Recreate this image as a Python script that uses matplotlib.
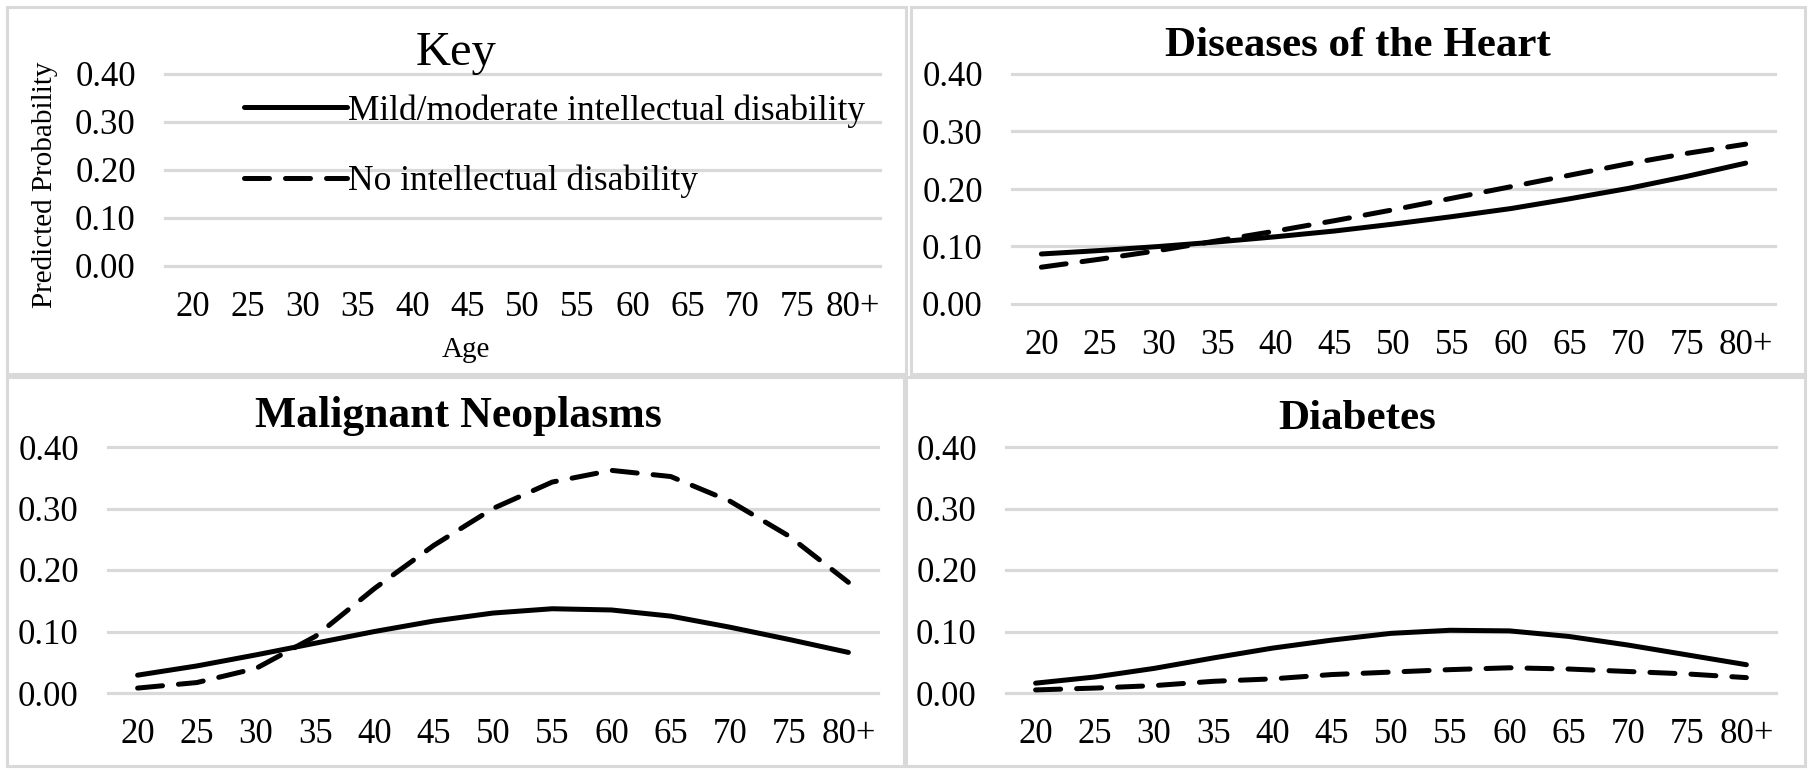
import matplotlib
matplotlib.use('Agg')
import matplotlib.pyplot as plt
from matplotlib.patches import Rectangle
from matplotlib.lines import Line2D
from matplotlib.ticker import FormatStrFormatter

plt.rcParams['font.family'] = ['Liberation Serif', 'DejaVu Serif']

# data
ages = ['20', '25', '30', '35', '40', '45', '50', '55', '60', '65', '70', '75', '80+']
series_names = ['Mild/moderate intellectual disability', 'No intellectual disability']

heart_id = [0.087, 0.093, 0.100, 0.108, 0.117, 0.127, 0.139, 0.152, 0.166, 0.183, 0.201, 0.222, 0.245]
heart_no = [0.064, 0.078, 0.093, 0.110, 0.127, 0.145, 0.164, 0.184, 0.204, 0.224, 0.244, 0.262, 0.278]
cancer_id = [0.029, 0.044, 0.062, 0.081, 0.100, 0.117, 0.130, 0.137, 0.135, 0.125, 0.107, 0.087, 0.066]
cancer_no = [0.008, 0.017, 0.040, 0.092, 0.170, 0.240, 0.300, 0.343, 0.362, 0.352, 0.312, 0.255, 0.180]
diab_id = [0.016, 0.026, 0.040, 0.057, 0.073, 0.086, 0.097, 0.102, 0.101, 0.092, 0.078, 0.062, 0.046]
diab_no = [0.005, 0.008, 0.012, 0.019, 0.023, 0.030, 0.034, 0.038, 0.041, 0.039, 0.035, 0.031, 0.025]

yticks = [0.0, 0.1, 0.2, 0.3, 0.4]

W, H = 1810, 774
fig = plt.figure(figsize=(18.1, 7.74), dpi=100)
grey = '#d9d9d9'


def rect(l, t, r, b):
    # pixel box (from top-left) -> figure fraction
    return [l / W, 1 - b / H, (r - l) / W, (b - t) / H]


def fx(px):
    return px / W


def fy(py):
    return 1 - py / H


# panel frames
for l, t, r, b in [(7, 7, 906, 374), (911, 7, 1805, 374), (7, 377, 904, 766), (906, 377, 1805, 766)]:
    fig.add_artist(Rectangle((fx(l), fy(b)), (r - l) / W, (b - t) / H,
                             transform=fig.transFigure, fill=False,
                             edgecolor=grey, lw=2.2))


def setup(ax):
    ax.set_xlim(-0.5, len(ages) - 0.5)
    ax.set_ylim(0, 0.4)
    ax.set_xticks(range(len(ages)))
    ax.set_xticklabels(ages)
    ax.set_yticks(yticks)
    ax.yaxis.set_major_formatter(FormatStrFormatter('%.2f'))
    ax.grid(axis='y', color=grey, lw=2.3)
    for gl in ax.get_ygridlines():
        gl.set_clip_on(False)
    ax.set_axisbelow(True)
    for s in ax.spines.values():
        s.set_visible(False)
    ax.tick_params(axis='both', length=0, labelsize=25)
    ax.tick_params(axis='y', pad=21)
    ax.tick_params(axis='x', pad=18)


def draw(ax, y_id, y_no):
    ax.plot(range(len(ages)), y_id, color='black', lw=3.6,
            solid_capstyle='round', clip_on=False)
    ax.plot(range(len(ages)), y_no, color='black', lw=3.6,
            dashes=(5, 3.2), dash_capstyle='round', clip_on=False)


# Key panel
ax_key = fig.add_axes(rect(165, 74, 880, 266))
setup(ax_key)
fig.text(fx(456), fy(65), 'Key', fontsize=35, ha='center', va='baseline')
fig.text(fx(45), fy(185), 'Predicted Probability', fontsize=21, rotation=90,
         ha='center', va='center')
fig.text(fx(466), fy(350), 'Age', fontsize=21, ha='center', va='center')
h1 = Line2D([], [], color='black', lw=3.6, solid_capstyle='round')
h2 = Line2D([], [], color='black', lw=3.6, dashes=(5, 3.2), dash_capstyle='round')
ax_key.legend([h1, h2], series_names, loc='upper left',
              bbox_to_anchor=(fx(244), fy(94)), bbox_transform=fig.transFigure,
              frameon=False, fontsize=25.5, handlelength=2.9, handletextpad=0.05,
              labelspacing=1.05, borderpad=0, borderaxespad=0)

# Diseases of the Heart
ax_h = fig.add_axes(rect(1012, 74, 1775, 304))
setup(ax_h)
draw(ax_h, heart_id, heart_no)
fig.text(fx(1358), fy(56), 'Diseases of the Heart', fontsize=31,
         fontweight='bold', ha='center', va='baseline')

# Malignant Neoplasms
ax_c = fig.add_axes(rect(108, 447, 878, 693))
setup(ax_c)
draw(ax_c, cancer_id, cancer_no)
fig.text(fx(458), fy(427), 'Malignant Neoplasms', fontsize=31.5,
         fontweight='bold', ha='center', va='baseline')

# Diabetes
ax_d = fig.add_axes(rect(1006, 447, 1776, 693))
setup(ax_d)
draw(ax_d, diab_id, diab_no)
fig.text(fx(1357), fy(429), 'Diabetes', fontsize=31,
         fontweight='bold', ha='center', va='baseline')

fig.savefig('out.png', dpi=100, facecolor='white')
